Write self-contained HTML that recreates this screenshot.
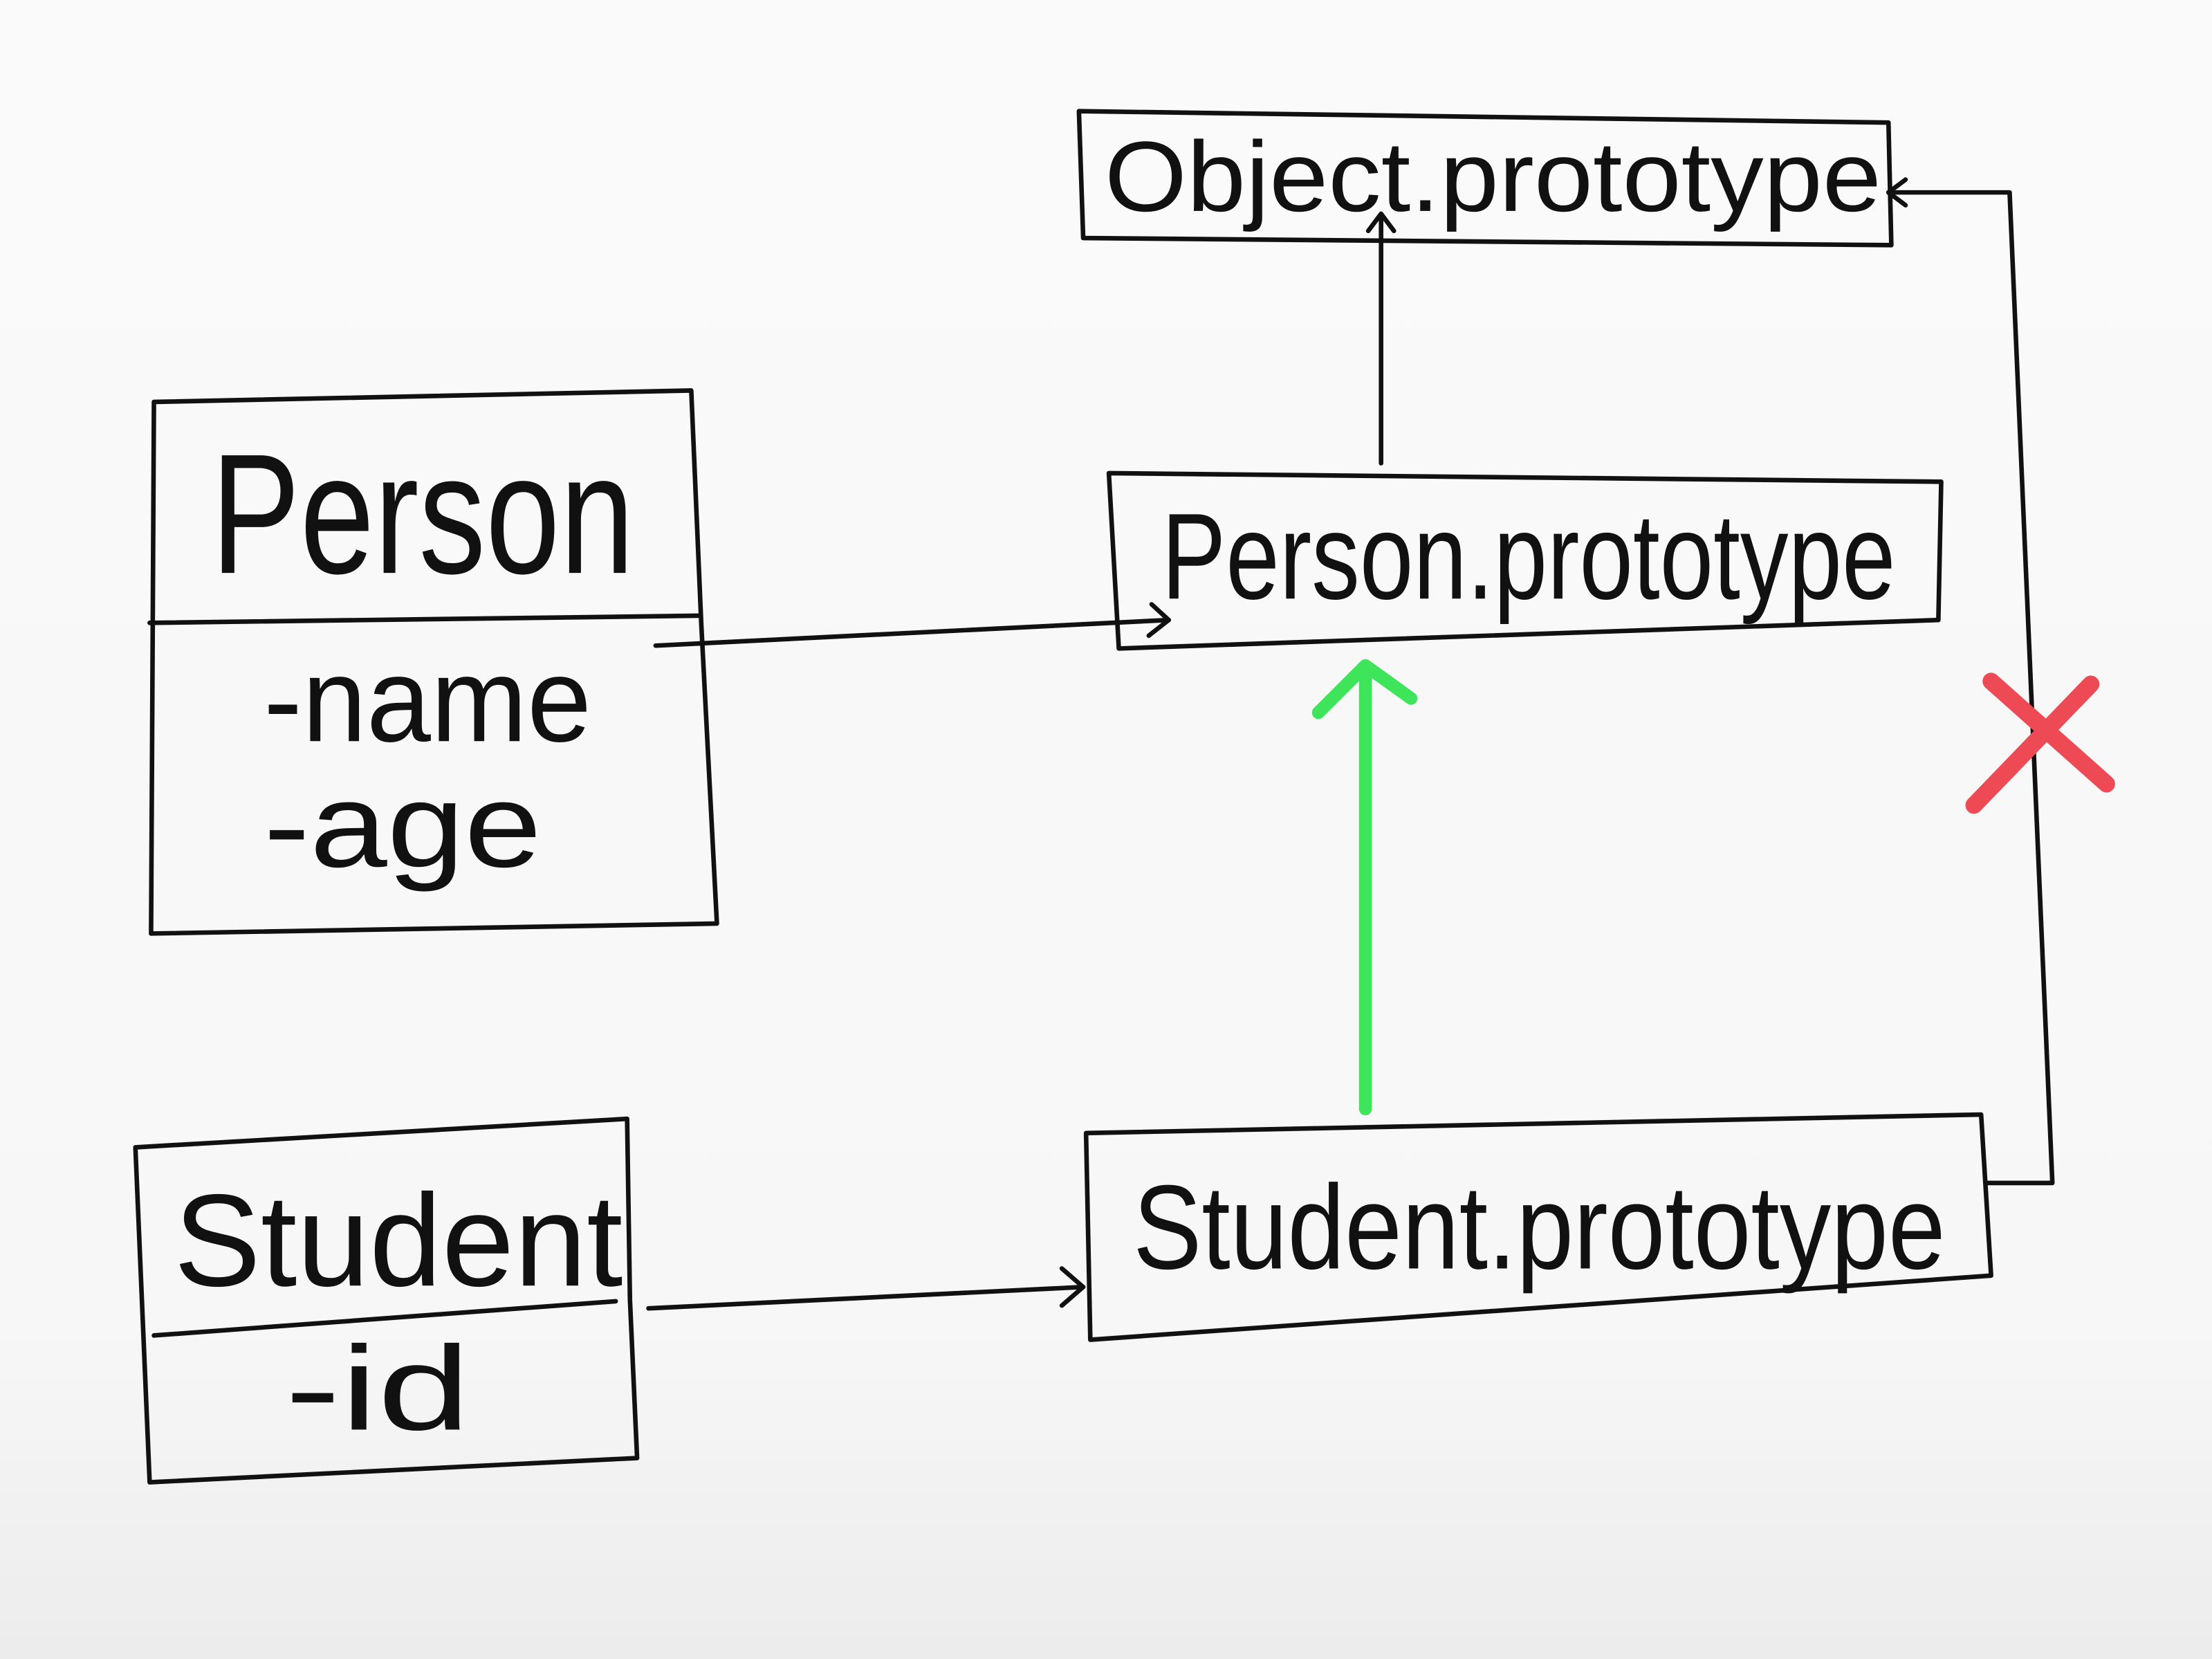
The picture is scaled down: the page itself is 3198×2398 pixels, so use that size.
<!DOCTYPE html>
<html><head><meta charset="utf-8"><style>
html,body{margin:0;padding:0;background:#f8f8f8;}
svg{display:block;}
text{font-family:"Liberation Sans",sans-serif;fill:#111;}
</style></head><body>
<svg width="3198" height="2398" viewBox="0 0 1552 1164" preserveAspectRatio="none" xmlns="http://www.w3.org/2000/svg">
<defs>
<linearGradient id="bg" x1="0" y1="0" x2="0" y2="1">
<stop offset="0" stop-color="#fafafa"/><stop offset="0.8" stop-color="#f7f7f7"/><stop offset="1" stop-color="#ececec"/>
</linearGradient>
</defs>
<rect width="1552" height="1164" fill="url(#bg)"/>
<g fill="none" stroke="#111" stroke-width="3.2" stroke-linecap="round" stroke-linejoin="round">
<polygon points="757,78 1325,86 1327,172 760,167"/>
<polygon points="108,282 485,274 492,437 503,648 106,655"/>
<line x1="105" y1="437" x2="490" y2="432"/>
<polygon points="778,332 1362,338 1360,435 785,455"/>
<polygon points="95,805 440,785 442,912 447,1023 105,1040"/>
<line x1="108" y1="937" x2="432" y2="913"/>
<polygon points="762,795 1390,782 1397,895 765,940"/>
<polyline points="460,453 820,435"/>
<polyline points="808,424 820,435 806,446"/>
<polyline points="969,325 969,150"/>
<polyline points="960,162 969,150 978,162"/>
<polyline points="455,918 760,903"/>
<polyline points="745,890 760,903 745,916"/>
<polyline points="1395,830 1440,830 1410,135 1325,135"/>
<polyline points="1337,126 1325,135 1337,144"/>
</g>
<g fill="none" stroke="#3ee45a" stroke-width="9" stroke-linecap="round" stroke-linejoin="round">
<line x1="958" y1="778" x2="958" y2="470"/>
<polyline points="925,500 958,467 990,490"/>
</g>
<g stroke="#ee4a55" stroke-width="12" stroke-linecap="round">
<line x1="1397" y1="478" x2="1478" y2="550"/>
<line x1="1467" y1="480" x2="1385" y2="565"/>
</g>
<text x="775" y="148" font-size="70" textLength="545" lengthAdjust="spacingAndGlyphs">Object.prototype</text>
<text x="148" y="402" font-size="120" textLength="297" lengthAdjust="spacingAndGlyphs">Person</text>
<text x="185" y="520" font-size="84" textLength="230" lengthAdjust="spacingAndGlyphs">-name</text>
<text x="185" y="608" font-size="84" textLength="195" lengthAdjust="spacingAndGlyphs">-age</text>
<text x="815" y="420" font-size="86" textLength="515" lengthAdjust="spacingAndGlyphs">Person.prototype</text>
<text x="122" y="902" font-size="92" textLength="315" lengthAdjust="spacingAndGlyphs">Student</text>
<text x="200" y="1003" font-size="84" textLength="130" lengthAdjust="spacingAndGlyphs">-id</text>
<text x="795" y="890" font-size="84" textLength="570" lengthAdjust="spacingAndGlyphs">Student.prototype</text>
</svg>
</body></html>
